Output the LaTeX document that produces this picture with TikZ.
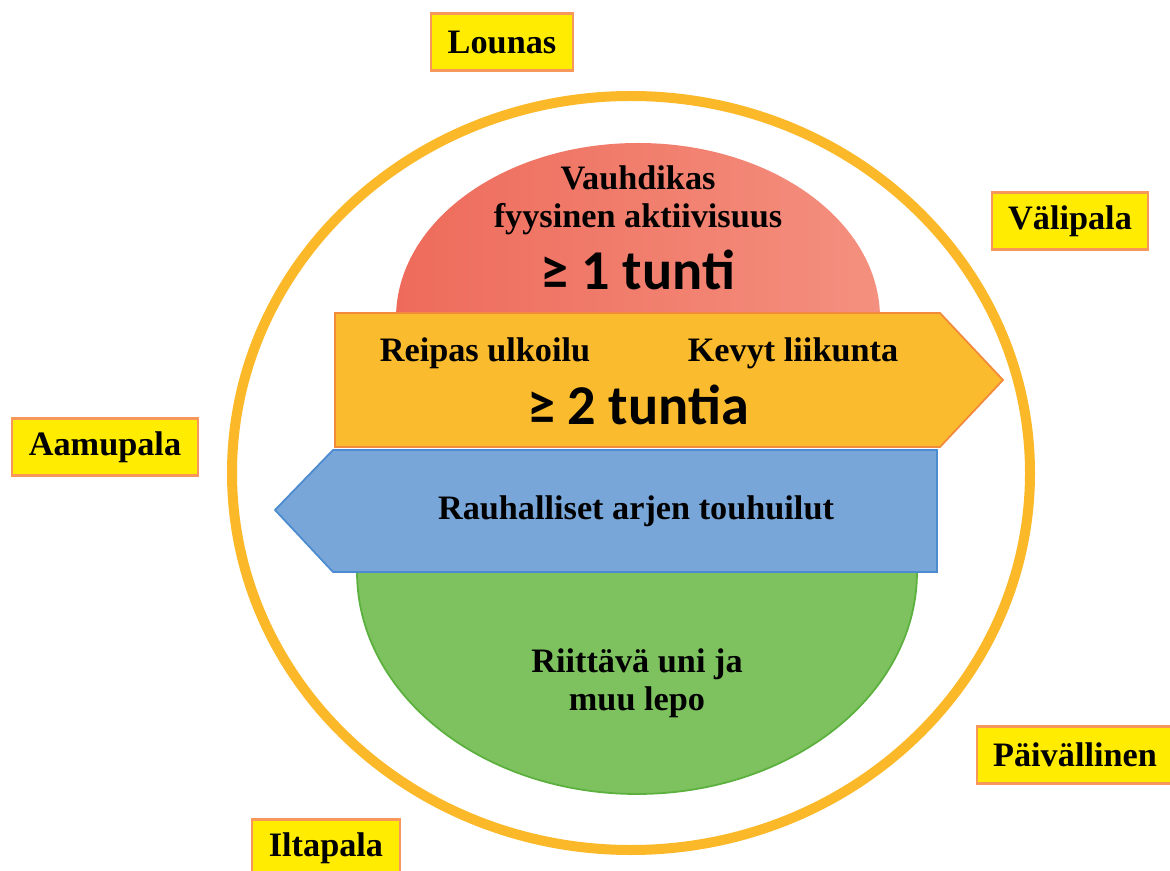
\documentclass[tikz,border=0pt]{standalone}
\usepackage{fontspec}
\setmainfont{Liberation Serif}
\newfontfamily\calibfont{Carlito}

\definecolor{ringorange}{HTML}{FBB829}
\definecolor{redleft}{HTML}{EE6B5B}
\definecolor{redright}{HTML}{F4907F}
\definecolor{armorange}{HTML}{FBBB2E}
\definecolor{armedge}{HTML}{F28A3C}
\definecolor{bluefill}{HTML}{78A6D9}
\definecolor{blueedge}{HTML}{4C8BD0}
\definecolor{greenfill}{HTML}{7DC25F}
\definecolor{greenedge}{HTML}{5BB03E}
\definecolor{lblyellow}{HTML}{FFEC00}
\definecolor{lbledge}{HTML}{F7975A}

\begin{document}
\begin{tikzpicture}[x=0.02cm,y=-0.02cm,
  lbl/.style={draw=lbledge, fill=lblyellow, line width=1.2pt, inner xsep=0.33cm, minimum height=1.14cm, font=\fontsize{19.5}{22}\selectfont\bfseries},
  txt/.style={font=\fontsize{19.5}{22}\selectfont\bfseries, anchor=base, inner sep=0},
  big/.style={font=\fontsize{32}{36}\selectfont\calibfont\bfseries, anchor=base, inner sep=0}]

\useasboundingbox (0,0) rectangle (1170,871);
\clip (0,0) rectangle (1170,871);

\draw [ringorange, line width=0.2cm] (631,473) ellipse [x radius=399, y radius=377];

\shade [left color=redleft, right color=redright] (396,318) arc [start angle=180, end angle=360, x radius=242, y radius=175] -- cycle;
\draw [greenedge, fill=greenfill, line width=1pt] (357,572) arc [start angle=180, end angle=0, x radius=280, y radius=222] -- cycle;

\draw [armedge, fill=armorange, line width=1pt] (335,313) -- (940,313) -- (1003,380) -- (940,447) -- (335,447) -- cycle;
\draw [blueedge, fill=bluefill, line width=1pt] (937,450) -- (937,572) -- (333,572) -- (275,510) -- (333,450) -- cycle;

\node[txt] (vauhdikas) at (638,190) {Vauhdikas};
\node[txt] (fyysinen) at (638,228) {fyysinen aktiivisuus};
\node[big] (tunti) at (638,290) {≥ 1 tunti};

\node[txt] (reipas) at (485,362) {Reipas ulkoilu};
\node[txt] (kevyt) at (793,362) {Kevyt liikunta};
\node[big] (tuntia) at (638,425) {≥ 2 tuntia};

\node[txt] (rauhalliset) at (636,520) {Rauhalliset arjen touhuilut};

\node[txt] (uni) at (637,672) {Riittävä uni ja};
\node[txt] (lepo) at (637,710) {muu lepo};

\node[lbl] (lounas) at (502,42) {Lounas};
\node[lbl] (valipala) at (1070,221) {Välipala};
\node[lbl] (aamupala) at (105,447) {Aamupala};
\node[lbl] (paivallinen) at (1075,755) {Päivällinen};
\node[lbl] (iltapala) at (326,848) {Iltapala};
\end{tikzpicture}
\end{document}
